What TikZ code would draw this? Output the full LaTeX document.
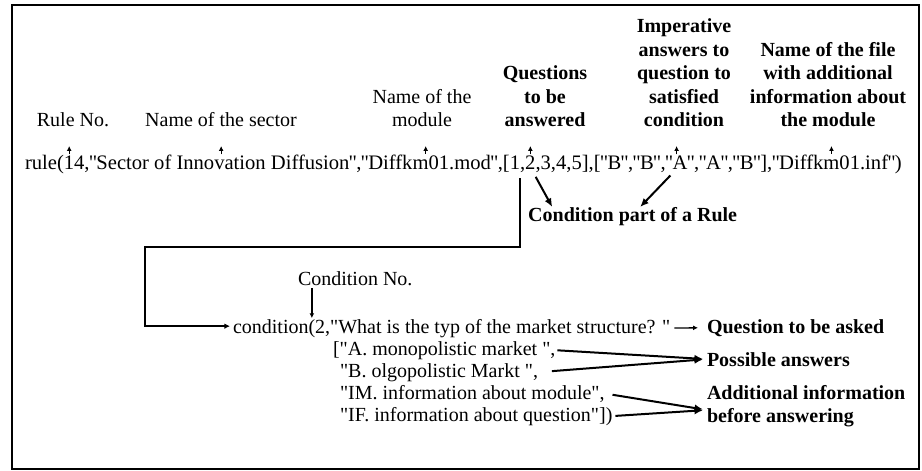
\documentclass[tikz,border=0pt]{standalone}
\usepackage{fontspec}
\setmainfont{Liberation Serif}[Ligatures=TeXOff]
\usepackage{tikz}
\usetikzlibrary{shapes,arrows.meta}
\tikzstyle{line} = [draw, line width=1.5pt, -{Latex[length=2mm,width=2mm]}]
\tikzstyle{tick} = [draw, line width=1.3pt, -{Latex[length=1.7mm,width=1.7mm]}]
\tikzstyle{fat} = [draw, line width=2pt, -{Latex[length=3mm,width=2.6mm]}]
\tikzstyle{txt} = [inner sep=0pt, outer sep=0pt, font=\fontsize{20}{23.5}\selectfont]
\tikzstyle{bold} = [txt, font=\fontsize{20}{23.5}\selectfont\bfseries]
\tikzstyle{piece} = [txt, anchor=base west]
\tikzstyle{rpiece} = [piece, font=\fontsize{20.6}{24}\selectfont]
\newcommand{\dq}{\kern-0.8pt"\kern-0.8pt}

\begin{document}
\begin{tikzpicture}[x=1pt, y=-1pt]
	\useasboundingbox (0,0) rectangle (922,471);
	\draw [black, line width=1.8pt] (12,5) rectangle (919,469);
	% the rule
	\node[rpiece] (r0) at (25,169) {rule(};
	\node[rpiece] (rnum) at (r0.base east) {14};
	\node[rpiece] (r1) at (rnum.base east) {,\dq Sector of};
	\node[rpiece] (rsec) at ([xshift=5.15pt]r1.base east) {Innovation};
	\node[rpiece] (r2) at (rsec.base east) {\ Diffusion\dq,\dq Diff};
	\node[rpiece] (rmod) at (r2.base east) {km01};
	\node[rpiece] (r3) at (rmod.base east) {.mod\dq,};
	\node[rpiece] (rbrk) at (r3.base east) {[1,};
	\node[rpiece] (rtwo) at (rbrk.base east) {2};
	\node[rpiece] (r4) at (rtwo.base east) {,3,4,5],[\dq B\dq,\dq B\dq,};
	\node[rpiece] (rans) at (r4.base east) {\dq A};
	\node[rpiece] (r5) at (rans.base east) {\dq,\dq A\dq,\dq B\dq],\dq Diff};
	\node[rpiece] (rfile) at (r5.base east) {km0};
	\node[rpiece] (r6) at (rfile.base east) {1.inf\dq)};
	% labels over the rule
	\node[txt, anchor=south] (lnum) at (73,127) {Rule No.};
	\node[txt, anchor=south] (lsec) at (221,127) {Name of the sector};
	\node[txt, anchor=south, align=center] (lmod) at (422,127) {Name of the\\module};
	\node[bold, anchor=south, align=center] (lques) at (545,127) {Questions\\to be\\answered};
	\node[bold, anchor=south, align=center] (lans) at (684,127) {Imperative\\answers to\\question to\\satisfied\\condition};
	\node[bold, anchor=south, align=center] (lfile) at (828,127) {Name of the file\\with additional\\information about\\the module};
	\path [tick, shorten <=1pt, shorten >=19pt] ([xshift=-5pt]rnum.north) -- ([xshift=-5pt]rnum.north |- lnum.south);
	\path [tick, shorten <=1pt, shorten >=19pt] (rsec.north) -- (rsec.north |- lsec.south);
	\path [tick, shorten <=1pt, shorten >=19pt] (rmod.north) -- (rmod.north |- lmod.south);
	\path [tick, shorten <=1pt, shorten >=19pt] (rtwo.north) -- (rtwo.north |- lques.south);
	\path [tick, shorten <=1pt, shorten >=19pt] (rans.north) -- (rans.north |- lans.south);
	\path [tick, shorten <=1pt, shorten >=19pt] (rfile.north) -- (rfile.north |- lfile.south);
	% condition part
	\node[bold, anchor=base west] (cpart) at ([shift={(3pt,-52pt)}]rtwo.base west) {Condition part of a Rule};
	\path [fat, shorten <=9pt] ([xshift=1pt]rtwo.south) -- ([xshift=24pt]cpart.north west);
	\path [fat, shorten <=9pt] (rans.south) -- ([xshift=112pt]cpart.north west);
	% the condition
	\node[piece] (ccond) at (233,333) {condition};
	\node[piece] (cpar) at (ccond.base east) {(};
	\node[piece] (cq) at (cpar.base east) {2,"What is the typ of the market structure? "};
	\node[txt, anchor=base west] (cnum) at (298,285) {Condition No.};
	\path [tick, shorten <=3pt, shorten >=1pt] (cpar.north |- cnum.south) -- (cpar.north);
	\coordinate (bend) at (145,247);
	\path [line, shorten <=6pt, shorten >=3pt] ([xshift=-5pt]rbrk.south east) |- (bend) |- (ccond.west);
	\node[piece] (ca) at (333,355) {["A. monopolistic market ",};
	\node[piece] (cb) at (340,377) {"B. olgopolistic Markt ",};
	\node[piece] (cc) at (340,399) {"IM. information about module",};
	\node[piece] (cd) at (340,421) {"IF. information about question"])};
	% notes on the right
	\node[bold, anchor=base west] (lq) at (707,333) {Question to be asked};
	\node[bold, anchor=base west] (lpos) at (707,366) {Possible answers};
	\node[bold, anchor=north west, align=left] (ladd) at (707,385) {Additional information\\before answering};
	\path [tick, shorten <=4pt, shorten >=9pt] (cq.east) -- (lq.west);
	\path [fat, shorten <=2pt, shorten >=4pt] (ca.east) -- (lpos.west);
	\path [fat, shorten <=14pt, shorten >=4pt] (cb.east) -- (lpos.west);
	\path [fat, shorten <=8pt, shorten >=4pt] (cc.east) -- ([yshift=-4pt]ladd.west);
	\path [fat, shorten <=3pt, shorten >=4pt] (cd.east) -- ([yshift=-4pt]ladd.west);
\end{tikzpicture}
\end{document}
